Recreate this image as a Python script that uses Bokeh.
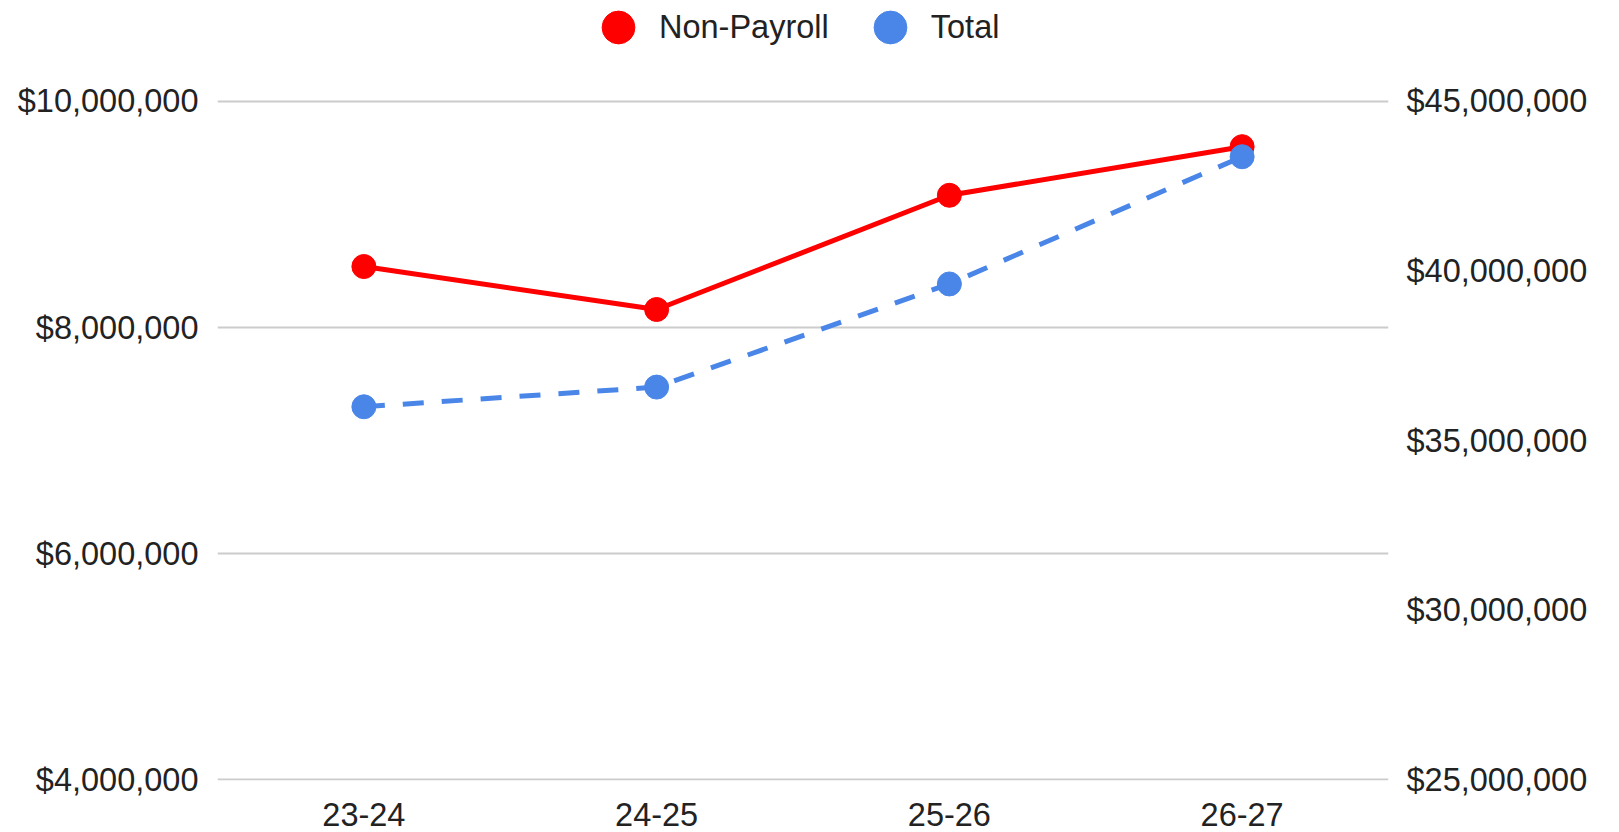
from bokeh.plotting import figure
from bokeh.models import (FactorRange, Range1d, LinearAxis, FixedTicker,
                          NumeralTickFormatter, Legend, LegendItem, ColumnDataSource)
from bokeh.embed import file_html
from bokeh.resources import INLINE

# Fiscal years and spending figures
categories = ["23-24", "24-25", "25-26", "26-27"]
non_payroll = [8540000, 8160000, 9170000, 9600000]
total = [36000000, 36580000, 39620000, 43370000]

# Axis ticks (left: non-payroll, right: total)
left_ticks = [4000000, 6000000, 8000000, 10000000]
right_ticks = [25000000, 30000000, 35000000, 40000000, 45000000]

FONT = "Liberation Sans"
FONT_SIZE = "32.5px"
TEXT = "#222222"
RED = "#ff0000"
BLUE = "#4a86e8"

# Plot band between the lowest and highest gridline, plus headroom above it
# for the legend (frame spans the full height above the x axis).
BAND_PX = 679
HEADROOM_PX = 101
FRAME_H = BAND_PX + HEADROOM_PX


def scale_range(ticks):
    lo, hi = ticks[0], ticks[-1]
    span = hi - lo
    return Range1d(lo - span * 0.0008, hi + span * HEADROOM_PX / BAND_PX)


src = ColumnDataSource(dict(year=categories, non_payroll=non_payroll, total=total))

p = figure(
    width=1619, height=832,
    x_range=FactorRange(*categories, range_padding=0),
    y_range=scale_range(left_ticks),
    output_backend="svg", toolbar_location=None,
    min_border_left=217, min_border_right=231,
    min_border_top=0, min_border_bottom=832 - FRAME_H,
)
p.extra_y_ranges = {"total": scale_range(right_ticks)}
p.outline_line_color = None
p.background_fill_color = "white"
p.border_fill_color = "white"

# Left axis
yl = p.yaxis[0]
yl.ticker = FixedTicker(ticks=left_ticks)
yl.formatter = NumeralTickFormatter(format="$0,0")

# Right axis
yr = LinearAxis(y_range_name="total",
                ticker=FixedTicker(ticks=right_ticks),
                formatter=NumeralTickFormatter(format="$0,0"))
p.add_layout(yr, "right")

for ax in [p.xaxis[0], yl, yr]:
    ax.axis_line_color = None
    ax.major_tick_line_color = None
    ax.minor_tick_line_color = None
    ax.major_tick_out = 0
    ax.major_tick_in = 0
    ax.minor_tick_out = 0
    ax.major_label_text_font = FONT
    ax.major_label_text_font_size = FONT_SIZE
    ax.major_label_text_color = TEXT
yl.major_label_standoff = 19
yr.major_label_standoff = 18
p.xaxis[0].major_label_standoff = 22

p.xgrid.grid_line_color = None
p.ygrid.grid_line_color = "#cccccc"
p.ygrid.grid_line_width = 2

# Non-payroll series on the left scale
p.line("year", "non_payroll", source=src, line_color=RED, line_width=5)
r_np = p.scatter("year", "non_payroll", source=src, size=24,
                 fill_color=RED, line_color=RED)

# Total series on the right scale
p.line("year", "total", source=src, y_range_name="total",
       line_color=BLUE, line_width=5, line_dash="21 18")
r_tot = p.scatter("year", "total", source=src, y_range_name="total", size=24,
                  fill_color=BLUE, line_color=BLUE)

legend = Legend(
    items=[LegendItem(label="Non-Payroll", renderers=[r_np]),
           LegendItem(label="Total", renderers=[r_tot])],
    location=(360, FRAME_H - 68), orientation="horizontal",
    glyph_width=82, glyph_height=82, label_standoff=0, spacing=20,
    padding=0, margin=0, border_line_color=None, background_fill_alpha=0,
    label_text_font=FONT, label_text_font_size=FONT_SIZE, label_text_color=TEXT,
)
p.add_layout(legend)

open("out.html", "w").write(file_html(p, INLINE))
